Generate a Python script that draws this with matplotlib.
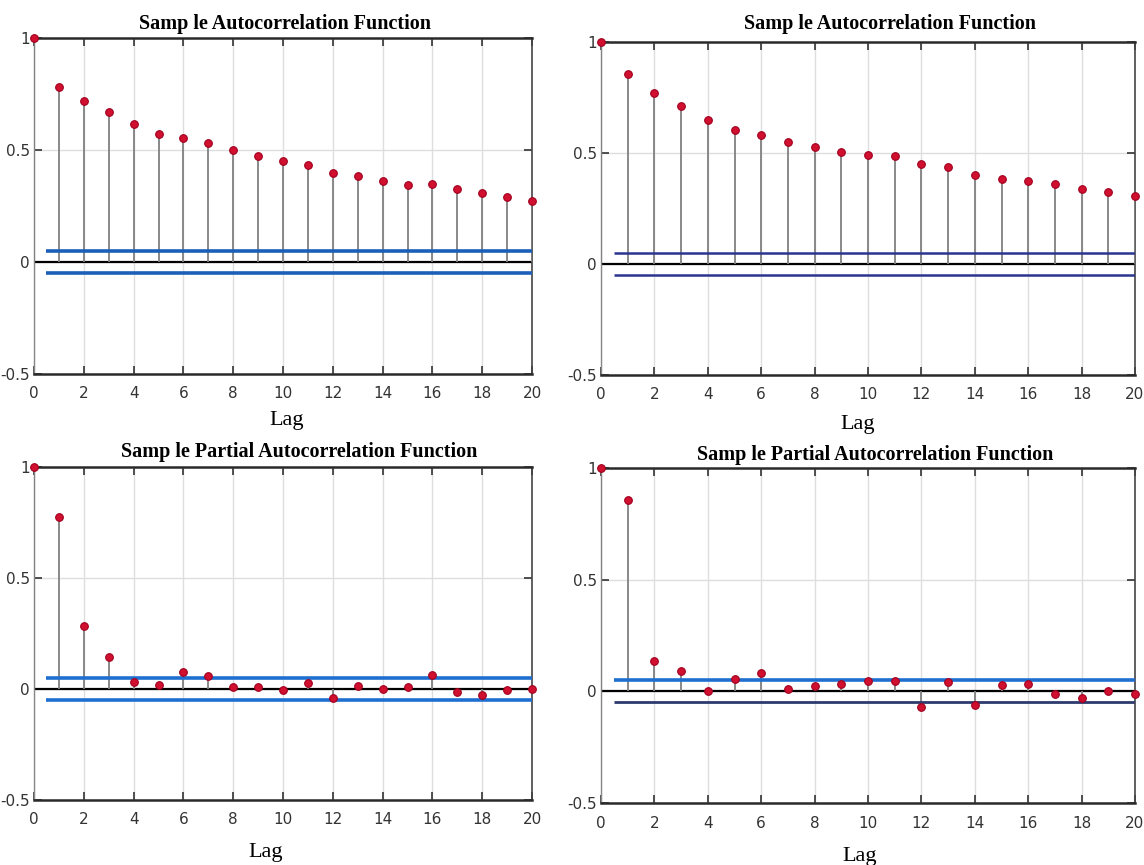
import matplotlib
matplotlib.use("Agg")
import matplotlib.pyplot as plt  # noqa: E402
import numpy as np  # noqa: E402

lags = np.arange(0, 21)

# sample ACF / PACF (lag 0 .. 20)
acf_left = [1.0, 0.78, 0.718, 0.670, 0.615, 0.570, 0.553, 0.531, 0.498, 0.475,
            0.450, 0.433, 0.396, 0.382, 0.360, 0.345, 0.348, 0.325, 0.306,
            0.291, 0.273]
acf_right = [1.0, 0.857, 0.770, 0.710, 0.647, 0.605, 0.583, 0.550, 0.527,
             0.505, 0.492, 0.485, 0.450, 0.435, 0.402, 0.383, 0.375, 0.362,
             0.339, 0.323, 0.305]
pacf_left = [1.0, 0.776, 0.283, 0.145, 0.033, 0.018, 0.075, 0.058, 0.010,
             0.010, -0.004, 0.025, -0.042, 0.015, -0.001, 0.007, 0.063,
             -0.012, -0.027, -0.004, 0.0]
pacf_right = [1.0, 0.857, 0.137, 0.092, 0.0, 0.056, 0.083, 0.012, 0.023,
              0.035, 0.047, 0.045, -0.071, 0.042, -0.059, 0.030, 0.035,
              -0.011, -0.029, 0.0, -0.011]

bound_upper = [0.048, 0.048, 0.048, 0.050]
bound_lower = [-0.047, -0.048, -0.048, -0.048]

titles = ["Samp le Autocorrelation Function",
          "Samp le Autocorrelation Function",
          "Samp le Partial Autocorrelation Function",
          "Samp le Partial Autocorrelation Function"]

xticks = np.arange(0, 21, 2)
yticks = [-0.5, 0, 0.5, 1]
ytick_labels = ["-0.5", "0", "0.5", "1"]

W, H = 1144, 865
# axes boxes in pixels: left, top, right, bottom
boxes = [(34, 38, 532, 374), (601, 42, 1135, 375),
         (34, 467, 532, 800), (601, 468, 1135, 803)]
title_off = [(2, 14), (22, 18), (16, 15), (7, 13)]
lag_off = [(4, -47), (-10, -50), (-17, -52), (-8, -54)]
bound_colors = [("#1b5fb8", "#1b5fb8"), ("#2b3590", "#2b3590"),
                ("#1f6fd0", "#1f6fd0"), ("#1f6fd0", "#2d3a6e")]
bound_widths = [(2.6, 2.6), (1.8, 1.8), (2.6, 2.6), (2.6, 2.0)]

tick_font = ["Liberation Sans Narrow", "DejaVu Sans Condensed", "DejaVu Sans"]

fig = plt.figure(figsize=(W / 100, H / 100), dpi=100)
series = [acf_left, acf_right, pacf_left, pacf_right]

for i, vals in enumerate(series):
    l, t, r, b = boxes[i]
    ax = fig.add_axes([l / W, 1 - b / H, (r - l) / W, (b - t) / H])
    ax.set_xlim(0, 20)
    ax.set_ylim(-0.5, 1)

    ax.set_xticks(xticks)
    ax.set_yticks(yticks)
    ax.set_yticklabels(ytick_labels)
    ax.grid(True, color="#dedede", lw=1.0)
    ax.set_axisbelow(True)
    ax.tick_params(direction="in", length=6, width=1.2, color="#333333",
                   top=True, right=True, labelsize=11)
    ax.tick_params(axis="x", pad=9)
    ax.tick_params(axis="y", pad=3)
    for lab in ax.get_xticklabels() + ax.get_yticklabels():
        lab.set_family(tick_font)
        lab.set_color("#333333")
    for side in ["top", "bottom"]:
        ax.spines[side].set_color("#2a2a2a")
        ax.spines[side].set_linewidth(1.8)
    ax.spines["right"].set_color("#444444")
    ax.spines["right"].set_linewidth(1.2)
    ax.spines["left"].set_color("#888888")
    ax.spines["left"].set_linewidth(1.0)

    ax.axhline(0, color="black", lw=1.6, zorder=2)
    ax.vlines(lags, 0, vals, color="#808080", lw=1.3, zorder=3)
    ax.hlines(bound_upper[i], 0.5, 20, color=bound_colors[i][0],
              lw=bound_widths[i][0], zorder=4)
    ax.hlines(bound_lower[i], 0.5, 20, color=bound_colors[i][1],
              lw=bound_widths[i][1], zorder=4)
    ax.plot(lags, vals, "o", ms=5.5, mfc="#d0102e", mec="#a00020", mew=0.8,
            zorder=5, clip_on=False)

    dx, dy = title_off[i]
    ax.annotate(titles[i], xy=(0.5, 1), xycoords="axes fraction",
                xytext=(dx, dy), textcoords="offset pixels",
                ha="center", va="center", fontsize=14.5, fontweight="bold",
                family="Liberation Serif")
    dx, dy = lag_off[i]
    ax.annotate("Lag", xy=(0.5, 0), xycoords="axes fraction",
                xytext=(dx, dy), textcoords="offset pixels",
                ha="center", va="center", fontsize=16,
                family="Liberation Serif")

fig.savefig("out.png", dpi=100)
